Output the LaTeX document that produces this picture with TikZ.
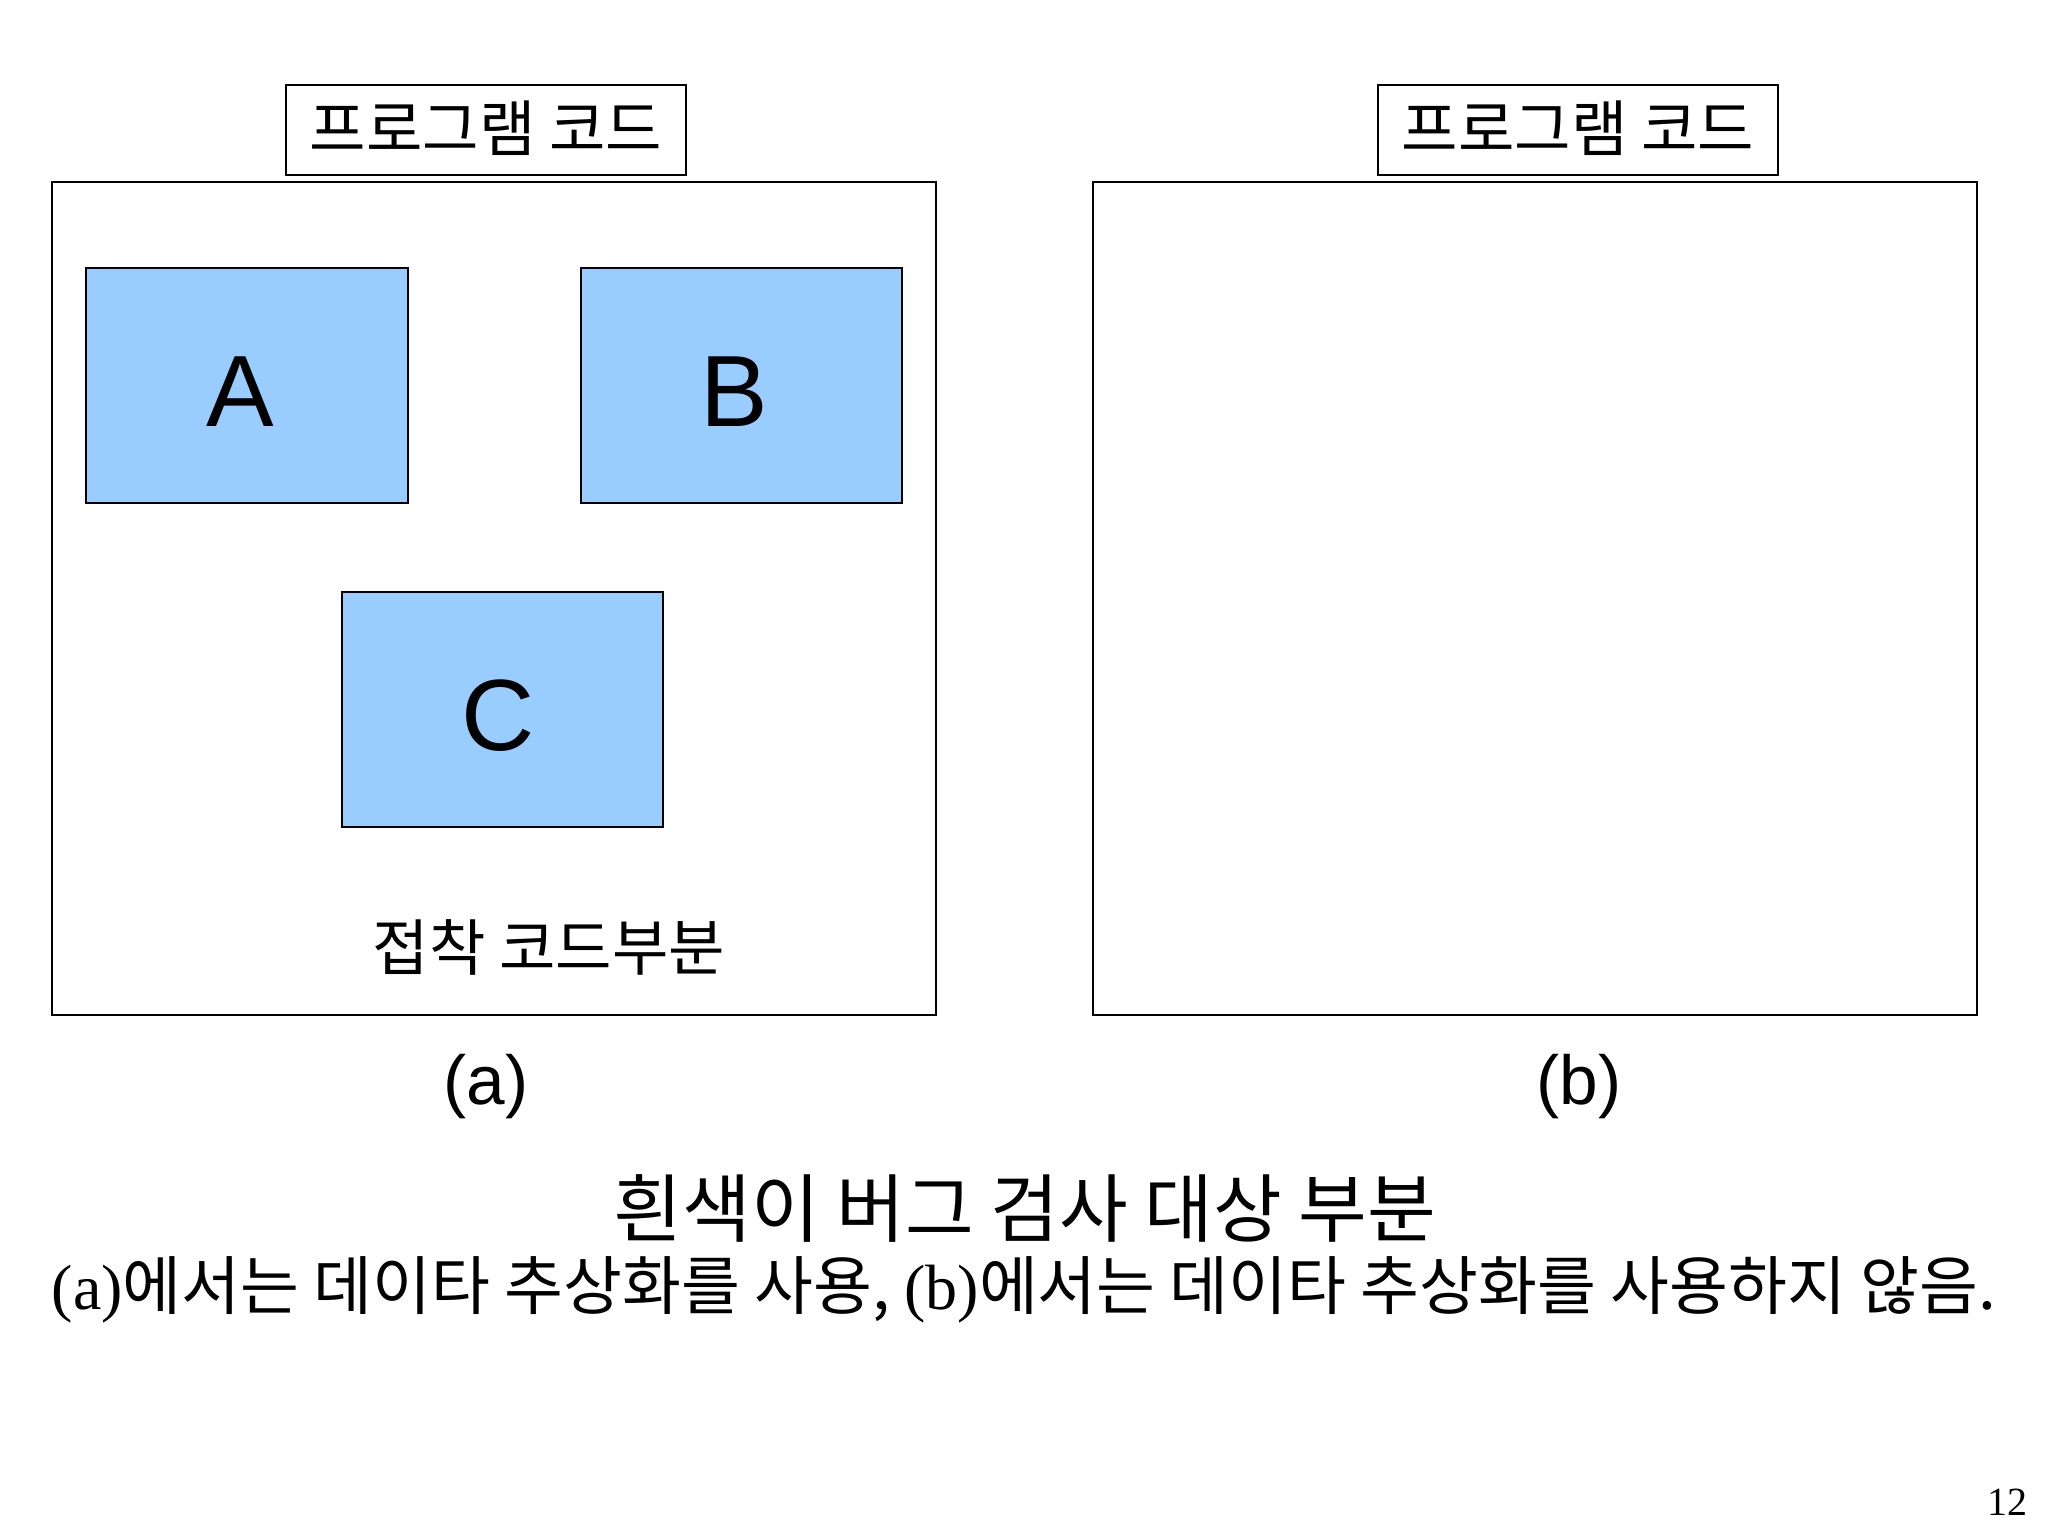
\documentclass[tikz,border=0pt]{standalone}
\usepackage{fontspec}
\setmainfont{Liberation Sans}
\newfontfamily\korfont{Noto Sans CJK KR}
\newfontfamily\serffont{Liberation Serif}
\definecolor{modblue}{RGB}{153,204,255}

\tikzset{every picture/.style={line width=2pt}}
\tikzset{
  kortext/.style={font=\korfont\fontsize{46}{54}\selectfont},
  modletter/.style={font=\fontsize{76}{90}\selectfont},
  subcap/.style={font=\fontsize{52}{62}\selectfont},
}

\begin{document}
\begin{tikzpicture}[x=0.75pt,y=0.75pt,yscale=-1,xscale=1]
    \useasboundingbox (0,0) rectangle (2048,1536); %set diagram to the slide size

    %Shape: Rectangle [label box left]
    \draw   (286,85) -- (686,85) -- (686,175) -- (286,175) -- cycle ;
    %Shape: Rectangle [label box right]
    \draw   (1378,85) -- (1778,85) -- (1778,175) -- (1378,175) -- cycle ;
    %Shape: Rectangle [code area a]
    \draw   (52,182) -- (936,182) -- (936,1015) -- (52,1015) -- cycle ;
    %Shape: Rectangle [code area b]
    \draw   (1093,182) -- (1977,182) -- (1977,1015) -- (1093,1015) -- cycle ;
    %Shape: Rectangle [module A]
    \draw [fill=modblue]  (86,268) -- (408,268) -- (408,503) -- (86,503) -- cycle ;
    %Shape: Rectangle [module B]
    \draw [fill=modblue]  (581,268) -- (902,268) -- (902,503) -- (581,503) -- cycle ;
    %Shape: Rectangle [module C]
    \draw [fill=modblue]  (342,592) -- (663,592) -- (663,827) -- (342,827) -- cycle ;

    % Text Node
    \draw (486,128) node (labelA) [kortext] {프로그램 코드};
    % Text Node
    \draw (1578,128) node (labelB) [kortext] {프로그램 코드};
    % Text Node
    \draw (240,392) node (modA) [modletter] {A};
    % Text Node
    \draw (734,392) node (modB) [modletter] {B};
    % Text Node
    \draw (498,716) node (modC) [modletter] {C};
    % Text Node
    \draw (549,947) node (glue) [kortext] {접착 코드부분};
    % Text Node
    \draw (486,1087) node (capA) [subcap] {(a)};
    % Text Node
    \draw (1579,1087) node (capB) [subcap] {(b)};
    % Text Node
    \draw (1025,1208) node (note) [font=\korfont\fontsize{56}{64}\selectfont] {흰색이 버그 검사 대상 부분};
    % Text Node
    \draw (1024,1290) node (remark) [font=\korfont\fontsize{48}{56}\selectfont] {{\serffont (a)}에서는 데이타 추상화를 사용, {\serffont (b)}에서는 데이타 추상화를 사용하지 않음.};
    % Text Node
    \draw (2007,1502) node (pageno) [font=\serffont\fontsize{30}{36}\selectfont] {12};
\end{tikzpicture}
\end{document}
